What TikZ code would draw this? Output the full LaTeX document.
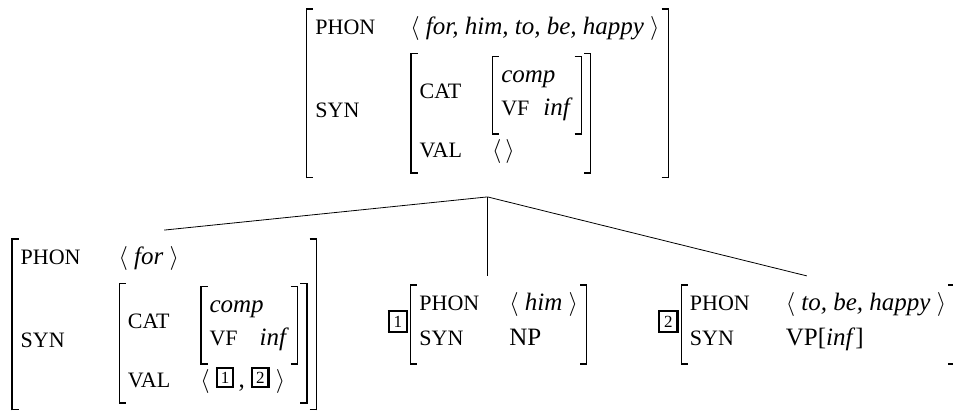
\documentclass[tikz,border=0pt]{standalone}
\usepackage{fontspec}
\setmainfont{Liberation Serif}
\usetikzlibrary{positioning}

% bracket geometry
\newlength\avmrule \setlength\avmrule{0.65pt}
\newlength\avmtick \setlength\avmtick{3pt}
\newlength\avmpad  \setlength\avmpad{4pt}
\newlength\avmcolsep \setlength\avmcolsep{15pt}
\newlength\avmtop \setlength\avmtop{1.6pt}
\newlength\avmht \newlength\avmdp

\newcommand\lbrk[2]{%
  \vrule width\avmrule height#1 depth#2\relax
  \rlap{\vrule width\avmtick height#1 depth\dimexpr\avmrule-#1\relax}%
  \rlap{\vrule width\avmtick height\dimexpr\avmrule-#2\relax depth#2}}
\newcommand\rbrk[2]{%
  \llap{\vrule width\avmtick height#1 depth\dimexpr\avmrule-#1\relax}%
  \llap{\vrule width\avmtick height\dimexpr\avmrule-#2\relax depth#2}%
  \vrule width\avmrule height#1 depth#2\relax}

% attribute-value matrix, #1 = extra bracket length below
\newcommand\avm[2][3pt]{\mbox{%
  \setbox0=\hbox{\begin{tabular}{@{}l@{\hspace{\avmcolsep}}l@{}}#2\end{tabular}}%
  \setlength\avmht{\dimexpr\ht0+\avmtop\relax}%
  \setlength\avmdp{\dimexpr\dp0+#1\relax}%
  \lbrk\avmht\avmdp\kern\avmpad\box0\kern\avmpad\rbrk\avmht\avmdp}}
% CAT value: comp / VF inf, #1 = column gap
\newcommand\catval[1]{{\setlength\avmcolsep{#1}%
  \avm[4.8pt]{\multicolumn{2}{@{}l@{}}{\textit{comp}}\\ \feat{VF} & \textit{inf}}}}

\newcommand\feat[1]{{\fontsize{11}{12}\selectfont #1}}
\newcommand\lst[1]{$\langle$ #1 $\rangle$}
\newcommand\tagnum[2][1.4pt]{{\setlength\fboxsep{#1}\setlength\fboxrule{1.1pt}%
  \fbox{\fontsize{8.5}{8.5}\selectfont #2}}}
\newcommand\intag[1]{\raisebox{2.4pt}{\tagnum{#1}}}
\newcommand\outtag[1]{$\vcenter{\hbox{\tagnum[1.9pt]{#1}}}$\kern1pt}

\begin{document}
\begin{tikzpicture}[x=0.5pt,y=0.5pt,
    avmnode/.style={inner xsep=0pt,inner ysep=4pt,font=\fontsize{12.5}{16.5}\selectfont}]
  \useasboundingbox (0,0) rectangle (953,-411);

  \node[avmnode,inner ysep=9pt] (root) at (487.5,-93.5)
    {\avm[2.4pt]{\feat{PHON}\hspace{2.5pt} & \lst{\textit{for, him, to, be, happy}}\hspace{7pt}\\[4pt]
      \feat{SYN} & \avm{\feat{CAT} & \catval{7pt}\\[5pt]
                        \feat{VAL} & $\langle\,\rangle$}}};

  \node[avmnode] (np)  [below=39.5pt of root]
    {\outtag{1}\avm[4.6pt]{\feat{PHON} & \lst{\textit{him}}\\[1pt] \feat{SYN} & NP}};
  \node[avmnode] (comp) [left=35pt of np]
    {\avm[3.4pt]{\feat{PHON}\hspace{4pt} & \lst{\textit{for}}\\[4pt]
      \feat{SYN} & \avm{\feat{CAT} & \catval{11pt}\\[6pt]
                        \feat{VAL} & \lst{\intag{1}\,, \intag{2}}}}};
  \node[avmnode] (vp)  [right=35pt of np]
    {\outtag{2}\avm[4.6pt]{\feat{PHON}\hspace{3pt} & \lst{\textit{to, be, happy}}\\[1pt] \feat{SYN} & VP[\textit{inf}]}};

  \path (root.south) edge (comp.north)
                     edge (np.north)
                     edge (vp.north);
\end{tikzpicture}
\end{document}
